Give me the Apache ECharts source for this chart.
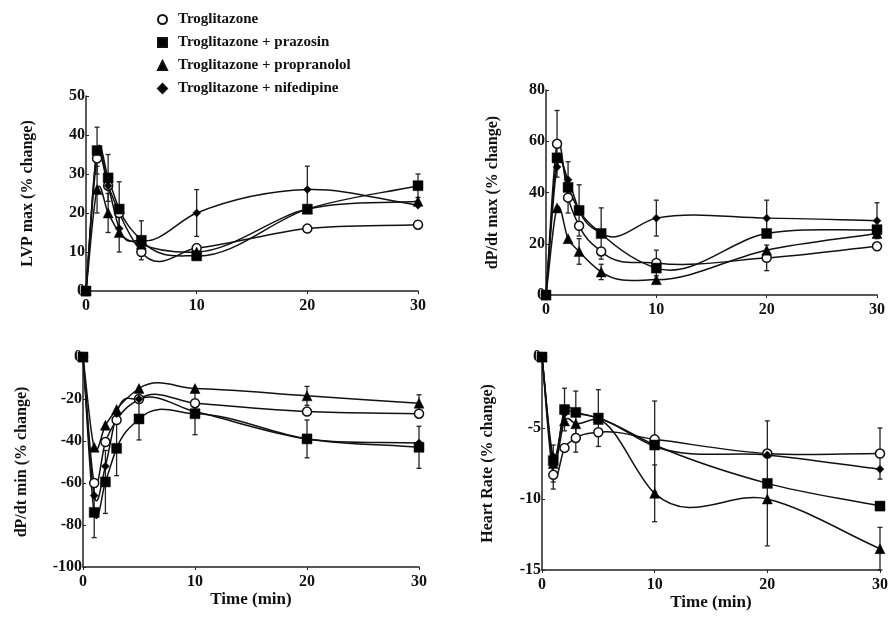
<!DOCTYPE html>
<html><head><meta charset="utf-8">
<script src="https://cdn.jsdelivr.net/npm/echarts@6/dist/echarts.min.js"></script>
<style>html,body{margin:0;padding:0;background:#fff}#c{width:891px;height:618px}</style>
</head><body><div id="c"></div>
<script>
// ---- data ----
const times = [0, 1, 2, 3, 5, 10, 20, 30];
const seriesNames = ['Troglitazone', 'Troglitazone + prazosin', 'Troglitazone + propranolol', 'Troglitazone + nifedipine'];
const xTicks = [0, 10, 20, 30];

// LVP max (% change)
const lvpTro = [0, 34, 27, 20, 10, 11, 16, 17];
const lvpPra = [0, 36, 29, 21, 13, 9, 21, 27];
const lvpPro = [0, 26, 20, 15, 12, 10, 21, 23];
const lvpNif = [0, 36, 27, 16, 13, 20, 26, 22];
const lvpTroErr = [0, 0, 0, 0, 0, 0, 0, 0];
const lvpPraErr = [0, 0, 6, 7, 0, 0, 0, 3];
const lvpProErr = [0, 6, 5, 5, 0, 0, 0, 0];
const lvpNifErr = [0, 6, 0, 0, 5, 6, 6, 0];

// dP/dt max (% change)
const dmaxTro = [0, 59, 38, 27, 17, 12.5, 14.5, 19];
const dmaxPra = [0, 53.5, 42, 33, 24, 10.5, 24, 25.5];
const dmaxPro = [0, 34, 22, 17, 9, 6, 17.5, 24];
const dmaxNif = [0, 50, 45, 33, 24, 30, 30, 29];
const dmaxTroErr = [0, 13, 0, 0, 0, 5, 5, 0];
const dmaxPraErr = [0, 0, 10, 10, 10, 0, 0, 0];
const dmaxProErr = [0, 0, 0, 5, 3, 0, 0, 0];
const dmaxNifErr = [0, 0, 0, 0, 0, 7, 7, 7];

// dP/dt min (% change)
const dminTro = [0, -60, -40.5, -30, -20, -22, -26, -27];
const dminPra = [0, -74, -59.5, -43.5, -29.5, -27, -39, -43];
const dminPro = [0, -43, -32.5, -25, -15, -15, -18.5, -22];
const dminNif = [0, -66, -52, -27, -20, -26, -39, -41];
const dminTroErr = [0, 0, 0, 0, 0, 0, 0, 0];
const dminPraErr = [0, 12, 15, 13, 10, 10, 9, 10];
const dminProErr = [0, 0, 0, 0, 0, 0, 4.5, 4];
const dminNifErr = [0, 0, 0, 0, 0, 0, 0, 0];

// Heart Rate (% change)
const hrTro = [0, -8.3, -6.4, -5.7, -5.3, -5.8, -6.8, -6.8];
const hrPra = [0, -7.3, -3.7, -3.9, -4.3, -6.2, -8.9, -10.5];
const hrPro = [0, -7.5, -4.5, -4.7, -4.4, -9.6, -10, -13.5];
const hrNif = [0, -7, -4, -4, -4.3, -6.3, -6.9, -7.9];
const hrTroErr = [0, 1, 0, 1, 0, 0, 0, 1.8];
const hrPraErr = [0, 0, 1.5, 1.5, 2, 0, 4.4, 0];
const hrProErr = [0, 1.3, 0, 0, 0, 2, 0, 1.5];
const hrNifErr = [0, 0, 0, 0, 0, 3.2, 0, 0];

// ---- panels ----
const panels = [
  { name: 'LVP max (% change)', min: 0, max: 50, interval: 10, grid: {left: 86, top: 96, width: 332, height: 195}, nameGap: 50, xName: '',
    vals: [lvpTro, lvpPra, lvpPro, lvpNif], errs: [lvpTroErr, lvpPraErr, lvpProErr, lvpNifErr] },
  { name: 'dP/dt max (% change)', min: 0, max: 80, interval: 20, grid: {left: 546, top: 90, width: 331, height: 205}, nameGap: 45, xName: '',
    vals: [dmaxTro, dmaxPra, dmaxPro, dmaxNif], errs: [dmaxTroErr, dmaxPraErr, dmaxProErr, dmaxNifErr] },
  { name: 'dP/dt min (% change)', min: -100, max: 0, interval: 20, grid: {left: 83, top: 357, width: 336, height: 210}, nameGap: 53, xName: 'Time (min)',
    vals: [dminTro, dminPra, dminPro, dminNif], errs: [dminTroErr, dminPraErr, dminProErr, dminNifErr] },
  { name: 'Heart Rate (% change)', min: -15, max: 0, interval: 5, grid: {left: 542, top: 357, width: 339, height: 213}, nameGap: 46, xName: 'Time (min)',
    vals: [hrTro, hrPra, hrPro, hrNif], errs: [hrTroErr, hrPraErr, hrProErr, hrNifErr] }
];

const FONT = 'Liberation Serif';
const symbols = ['circle', 'rect', 'triangle', 'diamond'];
const symSizes = [9, 10, 10, 8];
const fills = ['#fff', '#000', '#000', '#000'];

// slopes (dy/dx) at each point for a smooth cubic curve through the points
function slopes(xs, ys) {
  const n = xs.length, d = [];
  for (let i = 0; i < n; i++) {
    if (i === 0) d.push((ys[1] - ys[0]) / (xs[1] - xs[0]));
    else if (i === n - 1) d.push((ys[i] - ys[i - 1]) / (xs[i] - xs[i - 1]));
    else {
      const hl = xs[i] - xs[i - 1], hr = xs[i + 1] - xs[i];
      const sl = (ys[i] - ys[i - 1]) / hl, sr = (ys[i + 1] - ys[i]) / hr;
      d.push((sr * hl + sl * hr) / (hl + hr));
    }
  }
  return d;
}

const grids = [], xAxes = [], yAxes = [], series = [];
panels.forEach((p, pi) => {
  grids.push(Object.assign({containLabel: false}, p.grid));
  xAxes.push({
    type: 'value', gridIndex: pi, min: 0, max: 30, interval: 10,
    name: p.xName, nameLocation: 'middle', nameGap: 22,
    nameTextStyle: {fontFamily: FONT, fontWeight: 'bold', fontSize: 17, color: '#111'},
    axisLine: {show: true, onZero: false, lineStyle: {color: '#222', width: 1.5}},
    axisTick: {show: true, length: 3, lineStyle: {color: '#222'}},
    axisLabel: {fontFamily: FONT, fontWeight: 'bold', fontSize: 16, color: '#111', margin: 7},
    splitLine: {show: false}
  });
  yAxes.push({
    type: 'value', gridIndex: pi, min: p.min, max: p.max, interval: p.interval,
    name: p.name, nameLocation: 'middle', nameGap: p.nameGap, nameRotate: 90,
    nameTextStyle: {fontFamily: FONT, fontWeight: 'bold', fontSize: 16, color: '#111'},
    axisLine: {show: true, onZero: false, lineStyle: {color: '#222', width: 1.5}},
    axisTick: {show: true, length: 3, inside: true, lineStyle: {color: '#222'}},
    axisLabel: {fontFamily: FONT, fontWeight: 'bold', fontSize: 16, color: '#111', margin: 1},
    splitLine: {show: false}
  });
  p.vals.forEach((vals, si) => {
    const errs = p.errs[si];
    const d = slopes(times, vals);
    // error bars
    series.push({
      type: 'custom', xAxisIndex: pi, yAxisIndex: pi, silent: true, z: 1,
      data: times.map((t, i) => [t, vals[i] - errs[i], vals[i] + errs[i]]).filter((_, i) => errs[i] > 0),
      renderItem: function (params, api) {
        const lo = api.coord([api.value(0), api.value(1)]);
        const hi = api.coord([api.value(0), api.value(2)]);
        const w = 2.5;
        const st = {stroke: '#222', lineWidth: 1.3};
        return {type: 'group', children: [
          {type: 'line', shape: {x1: lo[0], y1: lo[1], x2: hi[0], y2: hi[1]}, style: st},
          {type: 'line', shape: {x1: lo[0] - w, y1: lo[1], x2: lo[0] + w, y2: lo[1]}, style: st},
          {type: 'line', shape: {x1: hi[0] - w, y1: hi[1], x2: hi[0] + w, y2: hi[1]}, style: st}
        ]};
      }
    });
    // smooth connecting curve
    series.push({
      type: 'custom', xAxisIndex: pi, yAxisIndex: pi, silent: true, z: 2,
      data: times.slice(0, -1).map((t, i) => [t, vals[i]]),
      renderItem: function (params, api) {
        const i = params.dataIndex;
        const x0 = times[i], x1 = times[i + 1], h = x1 - x0;
        const p0 = api.coord([x0, vals[i]]);
        const p1 = api.coord([x1, vals[i + 1]]);
        const c0 = api.coord([x0 + h / 3, vals[i] + d[i] * h / 3]);
        const c1 = api.coord([x1 - h / 3, vals[i + 1] - d[i + 1] * h / 3]);
        return {type: 'bezierCurve',
          shape: {x1: p0[0], y1: p0[1], x2: p1[0], y2: p1[1], cpx1: c0[0], cpy1: c0[1], cpx2: c1[0], cpy2: c1[1]},
          style: {stroke: '#111', lineWidth: 1.5, fill: null}};
      }
    });
    // markers
    series.push({
      name: seriesNames[si], type: 'scatter', xAxisIndex: pi, yAxisIndex: pi,
      data: times.map((t, i) => [t, vals[i]]),
      symbol: symbols[si], symbolSize: symSizes[si], clip: false, z: 3,
      itemStyle: {color: fills[si], borderColor: '#111', borderWidth: si === 0 ? 1.5 : 0.5, opacity: 1},
      emphasis: {disabled: true}
    });
  });
});

const chart = echarts.init(document.getElementById('c'), null, {renderer: 'canvas'});
chart.setOption({
  backgroundColor: '#fff',
  animation: false,
  legend: {
    data: seriesNames.map((n, i) => ({name: n, icon: symbols[i]})),
    orient: 'vertical', left: 152, top: 7, itemGap: 8, itemWidth: 9, itemHeight: 9,
    textStyle: {fontFamily: FONT, fontWeight: 'bold', fontSize: 15, color: '#111', padding: [0, 0, 0, 6]},
    selectedMode: false
  },
  grid: grids, xAxis: xAxes, yAxis: yAxes, series: series
});
</script></body></html>
